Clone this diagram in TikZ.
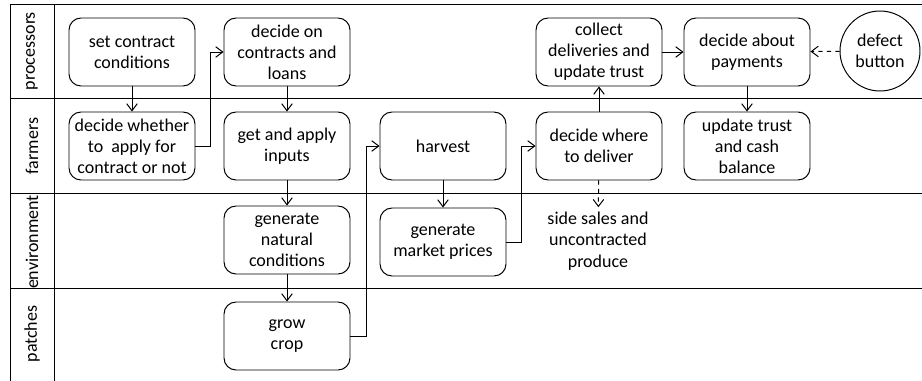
\documentclass[tikz,border=0pt]{standalone}
\usepackage{fontspec}
\setmainfont{Carlito}
\usetikzlibrary{arrows.meta}

\begin{document}
\begin{tikzpicture}[>={Straight Barb[length=5pt,width=7.5pt]}, line width=0.7pt,
  every node/.style={font=\fontsize{12.8}{15}\selectfont},
  act/.style={draw, rounded corners=0.3cm, minimum width=3.15cm, minimum height=1.7cm, inner sep=1pt, align=center},
  lane/.style={rotate=90}]
\useasboundingbox (0,0) rectangle (23.05,-9.525);
% lanes
\draw (0.25,-9.525) -- (0.25,-0.1) -- (23.05,-0.1);
\draw (1.35,-9.525) -- (1.35,-0.1);
\draw (0.25,-2.45) -- (23.05,-2.45);
\draw (0.25,-4.825) -- (23.05,-4.825);
\draw (0.25,-7.2) -- (23.05,-7.2);
\node[lane] (lproc) at (0.8,-1.275) {processors};
\node[lane] (lfarm) at (0.8,-3.65) {farmers};
\node[lane] (lenv) at (0.8,-6.05) {environment};
\node[lane] (lpatch) at (0.8,-8.35) {patches};
% activities
\node[act] (setcond) at (3.3,-1.3) {set contract\\conditions};
\node[act] (contracts) at (7.175,-1.3) {decide on\\contracts and\\loans};
\node[act] (whether) at (3.3,-3.65) {decide whether\\to\ \ apply for\\contract or not};
\node[act] (inputs) at (7.175,-3.65) {get and apply\\inputs};
\node[act] (harvest) at (11.075,-3.65) {harvest};
\node[act] (where) at (14.975,-3.65) {decide where\\to deliver};
\node[act] (collect) at (14.975,-1.3) {collect\\deliveries and\\update trust};
\node[act] (payments) at (18.675,-1.3) {decide about\\payments};
\node[act] (update) at (18.675,-3.65) {update trust\\and cash\\balance};
\node[draw, circle, minimum size=2cm, inner sep=1pt, align=center] (defect) at (22.0,-1.275) {defect\\button};
\node[act] (natural) at (7.175,-6.0) {generate\\natural\\conditions};
\node[act] (market) at (11.075,-6.05) {generate\\market prices};
\node[align=center] (sides) at (14.95,-6.03) {side sales and\\uncontracted\\produce};
\node[act] (grow) at (7.175,-8.4) {grow\\crop};
% flow
\draw[->] (setcond) -- (whether);
\draw[->] (whether.east) -- ++(0.375,0) |- (contracts.west);
\draw[->] (contracts) -- (inputs);
\draw[->] (inputs) -- (natural);
\draw[->] (natural) -- (grow);
\draw[->] (grow.east) -- ++(0.4,0) |- (harvest.west);
\draw[->] (harvest) -- (market);
\draw[->] (market.east) -- ++(0.375,0) |- (where.west);
\draw[->] (where) -- (collect);
\draw[->] (collect) -- (payments);
\draw[->] (payments) -- (update);
\draw[->,dashed] (defect) -- (payments);
\draw[->,dashed] (where) -- (sides);
\end{tikzpicture}
\end{document}
